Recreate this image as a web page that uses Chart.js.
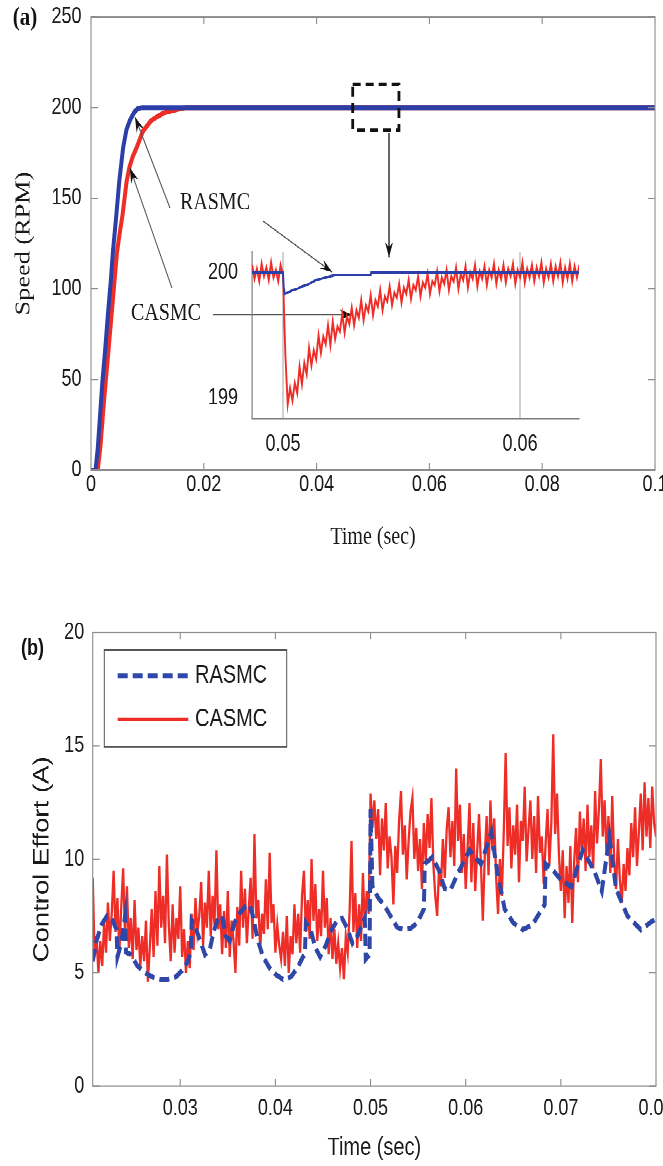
<!DOCTYPE html>
<html>
<head>
<meta charset="utf-8">
<script src="https://cdn.jsdelivr.net/npm/chart.js@4.4.0/dist/chart.umd.min.js"></script>
<style>
  html, body { margin: 0; padding: 0; background: #fff; overflow: hidden; }
  /* the source figure is stretched vertically, so the charts are drawn at 1/1.25 height and scaled */
  #page { position: absolute; left: 0; top: 0; width: 663px; height: 933px; transform: scaleY(1.25); transform-origin: 0 0; }
  #page canvas { position: absolute; left: 0; }
</style>
</head>
<body>
<div id="page">
  <canvas id="speed" width="663" height="448" style="top:0px"></canvas>
  <canvas id="zoom" width="410" height="180" style="left:190px;top:192px"></canvas>
  <canvas id="effort" width="663" height="453" style="top:480px"></canvas>
</div>
<script>
// ---- (a) speed response ----
const speedTicksX = [0, 0.02, 0.04, 0.06, 0.08, 0.1];
const speedTicksY = [0, 50, 100, 150, 200, 250];

const rasmcSpeedT = [0, 0.0008, 0.0012, 0.0016, 0.002, 0.0025, 0.003, 0.0035, 0.0039, 0.0045, 0.005, 0.0057, 0.0063, 0.0069, 0.0074, 0.0078, 0.0083, 0.009, 0.1];
const rasmcSpeed  = [0, 0, 12, 30, 48, 66, 86, 104, 121, 141, 159, 178, 188, 193, 196, 198, 199.5, 200, 200];

const casmcSpeedT = [0, 0.0012, 0.0017, 0.0022, 0.0027, 0.0031, 0.0036, 0.0041, 0.0046, 0.0051, 0.0056, 0.0063, 0.0068, 0.0074, 0.0081, 0.0092, 0.0107, 0.0128, 0.0152, 0.0168, 0.1];
const casmcSpeed  = [0, 0, 14, 34, 52, 66, 84, 102, 120, 131, 141, 159, 167, 173, 178, 187, 193, 197, 199, 200, 200];

// zoomed view around the load step at 0.05 s
const zoomTicksX = [0.05, 0.06];
const zoomTicksY = [199, 200];
const zoomStart = 0.0487, zoomStep = 0.0001;
const casmcZoom = [
  200.06, 199.95, 200.03, 199.93, 200.07, 199.97, 200.04, 199.94, 200.08, 199.96, 200.02, 199.93, 200.06, 199.98,
  199.35, 198.95, 199.08, 198.98, 199.12, 199.04, 199.25, 199.11, 199.28, 199.19,
  199.40, 199.26, 199.38, 199.31, 199.50, 199.36, 199.49, 199.43, 199.58, 199.42,
  199.61, 199.47, 199.57, 199.53, 199.67, 199.52, 199.65, 199.59, 199.72, 199.58,
  199.70, 199.64, 199.78, 199.62, 199.74, 199.69, 199.82, 199.66, 199.78, 199.73,
  199.86, 199.70, 199.81, 199.77, 199.89, 199.74, 199.84, 199.80, 199.91, 199.76,
  199.88, 199.83, 199.94, 199.79, 199.90, 199.86, 199.97, 199.81, 199.92, 199.88,
  199.99, 199.83, 199.93, 199.90, 200.01, 199.85, 199.96, 199.91, 200.02, 199.86,
  199.97, 199.93, 200.04, 199.87, 199.99, 199.94, 200.05, 199.88, 200.00, 199.95,
  200.06, 199.89, 200.01, 199.95, 200.05, 199.90, 200.02, 199.96, 200.07, 199.91,
  200.02, 199.95, 200.06, 199.92, 200.03, 199.97, 200.07, 199.91, 200.02, 199.96,
  200.08, 199.92, 200.03, 199.96, 200.06, 199.93, 200.04, 199.97, 200.08, 199.92,
  200.03, 199.96, 200.07, 199.93, 200.05, 199.97, 200.08, 199.92, 200.04, 199.95,
  200.07, 199.93, 200.05, 199.96, 200.06
];
const rasmcZoomT = [0.0487, 0.05, 0.05003, 0.05008, 0.0502, 0.0504, 0.0506, 0.0508, 0.051, 0.0512, 0.0514, 0.0516, 0.0518, 0.052, 0.0522, 0.0537, 0.05372, 0.0625];
const rasmcZoom  = [200.0, 200.0, 199.88, 199.83, 199.84, 199.86, 199.87, 199.89, 199.90, 199.92, 199.94, 199.95, 199.96, 199.97, 199.98, 199.98, 200.0, 200.0];

// ---- (b) control effort ----
const effortTicksX = [0.03, 0.04, 0.05, 0.06, 0.07, 0.08];
const effortTicksY = [0, 5, 10, 15, 20];

const rasmcEffortT = [
  0.0208, 0.0212, 0.0217, 0.0223, 0.0229, 0.0233, 0.0234, 0.0238, 0.0242, 0.0243,
  0.0248, 0.0255, 0.0263, 0.0271, 0.0279, 0.0287, 0.0295, 0.0302, 0.0308, 0.0311,
  0.0312, 0.0316, 0.0321, 0.0326, 0.0331, 0.0335, 0.0339, 0.0344, 0.0348, 0.0352,
  0.0357, 0.0362, 0.0368, 0.0373, 0.0377, 0.0381, 0.0387, 0.0394, 0.0401, 0.0408,
  0.0416, 0.0423, 0.0429, 0.0431, 0.0432, 0.0437, 0.0442, 0.0447, 0.0453, 0.0459,
  0.0465, 0.047, 0.0475, 0.0481, 0.0486, 0.0491, 0.0494, 0.0495, 0.0499, 0.05,
  0.0502, 0.0508, 0.0514, 0.0521, 0.0528, 0.0535, 0.0542, 0.0549, 0.0556, 0.0557,
  0.0565, 0.0572, 0.0578, 0.0584, 0.0592, 0.0604, 0.0616, 0.0627, 0.0633, 0.0641,
  0.065, 0.066, 0.067, 0.068, 0.0683, 0.0684, 0.069, 0.07, 0.0711, 0.0723,
  0.0735, 0.0743, 0.0751, 0.0758, 0.077, 0.0784, 0.0797, 0.08
];
const rasmcEffort = [
  5.5, 6.4, 7.1, 7.5, 7.3, 6.9, 5.7, 6.3, 7.5, 5.9,
  5.8, 5.3, 5.0, 4.8, 4.7, 4.7, 4.8, 5.1, 5.5, 5.9,
  7.3, 7.0, 6.4, 5.8, 6.0, 6.8, 7.3, 7.5, 6.6, 6.4,
  7.2, 7.6, 7.9, 8.0, 7.4, 6.5, 5.7, 5.2, 4.9, 4.7,
  4.8, 5.2, 5.7, 5.8, 7.2, 6.9, 6.1, 5.7, 6.2, 6.9,
  7.3, 7.4, 7.0, 6.3, 6.6, 7.1, 7.4, 5.6, 5.8, 12.2,
  8.8, 8.3, 8.0, 7.5, 7.0, 6.9, 6.95, 7.2, 7.8, 9.8,
  10.1, 9.5, 8.7, 8.65, 9.4, 10.4, 9.8, 11.2, 9.5, 7.8,
  7.2, 6.9, 7.1, 7.8, 8.0, 9.8, 9.6, 9.1, 8.8, 10.4,
  9.5, 8.6, 11.0, 8.7, 7.5, 6.9, 7.3, 7.4
];

const effortStart = 0.0208, effortStep = 0.0002;
const casmcEffort = [
  9.2, 5.8, 6.6, 5.0, 6.4, 5.3, 7.2, 5.9, 8.1, 6.4,
  7.6, 9.5, 6.8, 8.3, 5.9, 7.9, 9.6, 6.6, 8.8, 6.1,
  7.4, 5.6, 8.2, 6.0, 7.0, 5.3, 6.6, 5.5, 7.3, 4.6,
  6.1, 7.8, 5.7, 8.6, 6.2, 9.7, 7.0, 8.4, 6.3, 10.2,
  7.1, 5.5, 8.0, 5.9, 7.4, 6.5, 8.8, 5.7, 6.9, 5.0,
  6.4, 5.2, 7.6, 6.0, 8.3, 6.8, 7.5, 9.0, 6.2, 8.1,
  7.0, 9.5, 6.6, 8.4, 7.1, 10.4, 6.9, 8.0, 5.8, 7.7,
  6.1, 8.6, 5.7, 7.3, 6.4, 5.0, 7.9, 6.2, 9.5, 7.0,
  8.7, 6.3, 7.8, 9.2, 6.5, 11.1, 7.4, 8.2, 6.0, 7.6,
  6.7, 9.1, 6.9, 10.3, 7.2, 8.0, 5.9, 7.1, 6.2, 5.6,
  6.8, 5.3, 7.5, 5.0, 6.6, 5.8, 8.0, 6.3, 7.6, 5.9,
  8.4, 9.5, 6.8, 8.2, 6.5, 10.0, 7.3, 8.9, 6.4, 7.8,
  6.6, 9.5, 7.0, 8.3, 5.8, 7.4, 5.6, 6.9, 5.4, 6.3,
  5.2, 6.1, 4.7, 6.6, 5.9, 7.7, 10.8, 6.8, 8.5, 6.1,
  8.0, 6.4, 9.4, 7.0, 8.6, 7.6, 12.9, 11.4, 12.6, 10.9,
  12.2, 9.3, 11.8, 10.4, 12.5, 9.6, 11.0, 10.1, 8.0, 10.6,
  9.4, 11.7, 13.0, 10.2, 11.5, 9.1, 10.8, 12.1, 12.7, 10.0,
  11.4, 9.5, 10.9, 8.7, 11.6, 9.9, 12.0, 10.5, 12.7, 9.8,
  8.4, 7.5, 9.6, 8.8, 10.9, 9.2, 11.3, 12.3, 10.1, 11.7,
  9.7, 14.0, 10.8, 12.4, 9.4, 11.1, 8.7, 10.5, 12.5, 9.0,
  11.6, 8.6, 10.3, 12.0, 9.8, 7.3, 10.1, 11.9, 9.3, 12.6,
  10.4, 11.8, 9.2, 7.6, 10.0, 8.4, 11.2, 14.7, 10.6, 12.3,
  9.6, 11.5, 10.2, 12.4, 9.0, 11.7, 10.8, 13.2, 9.9, 11.3,
  12.6, 10.0, 11.9, 9.4, 12.8, 10.3, 11.0, 8.9, 10.7, 12.2,
  9.8, 11.6, 15.5, 11.1, 12.9, 10.2, 8.6, 10.4, 7.4, 9.7,
  8.1, 10.6, 7.2, 9.9, 11.4, 9.0, 12.1, 10.3, 11.8, 9.5,
  12.4, 10.1, 11.5, 9.6, 13.0, 10.7, 12.2, 14.4, 11.0, 12.6,
  10.2, 11.9, 9.4, 12.8, 10.0, 8.7, 10.9, 9.1, 8.1, 9.8,
  8.6, 10.5, 9.3, 11.6, 10.1, 12.3, 9.7, 11.2, 12.9, 10.4,
  13.4, 11.0, 12.7, 10.5, 13.2, 11.6, 11.0
];

const SANS = "'Liberation Sans', Arial, sans-serif";
const SERIF = "'Liberation Serif', 'Times New Roman', serif";
const BLUE = '#2c3fa8';
const RED = '#ee2d27';
const INK = '#1a1a1a';
const AXIS = '#8c8c8c';

Chart.defaults.font.family = SANS;
Chart.defaults.color = INK;

const fmt = v => String(+Number(v).toFixed(4));
const pairs = (xs, ys) => xs.map((t, i) => ({ x: t, y: ys[i] }));
const sampled = (start, step, ys) => ys.map((v, i) => ({ x: start + i * step, y: v }));
const fixedTicks = list => s => { s.ticks = list.map(v => ({ value: v })); };

function arrowTo(ctx, x1, y1, x2, y2, color, width) {
  ctx.strokeStyle = color;
  ctx.lineWidth = width;
  ctx.beginPath();
  ctx.moveTo(x1, y1);
  ctx.lineTo(x2, y2);
  ctx.stroke();
  const a = Math.atan2(y2 - y1, x2 - x1);
  const c = Math.cos(a), s = Math.sin(a);
  const L = 12, W = 4;
  ctx.fillStyle = '#111';
  ctx.beginPath();
  ctx.moveTo(x2, y2);
  ctx.lineTo(x2 - L * c - W * s, y2 - L * s + W * c);
  ctx.lineTo(x2 - 0.65 * L * c, y2 - 0.65 * L * s);
  ctx.lineTo(x2 - L * c + W * s, y2 - L * s - W * c);
  ctx.closePath();
  ctx.fill();
}

// matlab style box with inward ticks on all four sides
const framePlugin = {
  id: 'frame',
  afterDatasetsDraw(chart, args, opts) {
    const { ctx, chartArea: a, scales: { x, y } } = chart;
    ctx.save();
    ctx.strokeStyle = opts.color;
    ctx.lineWidth = 1.1;
    ctx.strokeRect(a.left, a.top, a.right - a.left, a.bottom - a.top);
    ctx.beginPath();
    x.ticks.forEach(t => {
      const p = x.getPixelForValue(t.value);
      ctx.moveTo(p, a.bottom); ctx.lineTo(p, a.bottom - opts.tickV);
      ctx.moveTo(p, a.top); ctx.lineTo(p, a.top + opts.tickV);
    });
    y.ticks.forEach(t => {
      const p = y.getPixelForValue(t.value);
      ctx.moveTo(a.left, p); ctx.lineTo(a.left + opts.tickH, p);
      ctx.moveTo(a.right, p); ctx.lineTo(a.right - opts.tickH, p);
    });
    ctx.stroke();
    ctx.restore();
  }
};

const speedNotes = {
  id: 'speedNotes',
  afterDatasetsDraw(chart) {
    const { ctx, scales: { x, y } } = chart;
    const at = (t, v) => [x.getPixelForValue(t), y.getPixelForValue(v)];
    ctx.save();
    // dashed box around the zoomed part
    const [bx1, by1] = at(0.0464, 213);
    const [bx2, by2] = at(0.0546, 187.6);
    ctx.setLineDash([8, 5]);
    ctx.lineWidth = 2.8;
    ctx.strokeStyle = '#111';
    ctx.strokeRect(bx1, by1, bx2 - bx1, by2 - by1);
    ctx.setLineDash([]);
    arrowTo(ctx, ...at(0.05284, 186), ...at(0.05284, 117.5), '#111', 1.3);

    ctx.font = `20px ${SERIF}`;
    ctx.fillStyle = INK;
    ctx.textBaseline = 'alphabetic';
    ctx.fillText('RASMC', ...at(0.01578, 144));
    arrowTo(ctx, ...at(0.01401, 144.6), ...at(0.0078, 194.8), '#555', 1);
    arrowTo(ctx, ...at(0.0305, 137.4), ...at(0.04273, 109.3), '#555', 1);
    ctx.fillStyle = INK;
    ctx.fillText('CASMC', ...at(0.00709, 82.8));
    arrowTo(ctx, ...at(0.01436, 100.4), ...at(0.00691, 166.7), '#555', 1);
    arrowTo(ctx, ...at(0.02163, 85.8), ...at(0.04628, 85.8), '#555', 1);

    ctx.font = `bold 21px ${SERIF}`;
    ctx.textBaseline = 'middle';
    ctx.fillStyle = '#111';
    ctx.fillText('(a)', 12.7, 14.4);
    ctx.restore();
  }
};

const effortNotes = {
  id: 'effortNotes',
  afterDraw(chart) {
    const { ctx } = chart;
    ctx.save();
    ctx.font = `bold 18px ${SANS}`;
    ctx.fillStyle = '#111';
    ctx.textBaseline = 'middle';
    ctx.fillText('(b)', 21, 39.2);

    // legend
    ctx.fillStyle = '#fff';
    ctx.fillRect(104.3, 40, 182.4, 77.4);
    ctx.strokeStyle = '#555';
    ctx.lineWidth = 1;
    ctx.strokeRect(104.3, 40, 182.4, 77.4);
    const rows = [60.6, 95.4];
    chart.data.datasets.forEach((ds, i) => {
      ctx.strokeStyle = ds.borderColor;
      ctx.lineWidth = ds.borderDash ? 4 : 3;
      ctx.setLineDash(ds.borderDash || []);
      ctx.beginPath();
      ctx.moveTo(117.7, rows[i]);
      ctx.lineTo(188.3, rows[i]);
      ctx.stroke();
      ctx.setLineDash([]);
      ctx.font = `20px ${SANS}`;
      ctx.fillStyle = INK;
      ctx.fillText(ds.label, 195, rows[i]);
    });
    ctx.restore();
  }
};

const base = {
  responsive: false,
  animation: false,
  devicePixelRatio: 2,
  elements: { point: { radius: 0 }, line: { tension: 0 } },
};

// (a) main axes
new Chart(document.getElementById('speed'), {
  type: 'line',
  data: {
    datasets: [
      { label: 'RASMC', data: pairs(rasmcSpeedT, rasmcSpeed), borderColor: BLUE, borderWidth: 4 },
      { label: 'CASMC', data: pairs(casmcSpeedT, casmcSpeed), borderColor: RED, borderWidth: 4 }
    ]
  },
  options: {
    ...base,
    layout: { padding: { top: 13.6, right: 8, bottom: 0, left: 0 } },
    plugins: {
      legend: { display: false },
      tooltip: { enabled: false },
      frame: { color: AXIS, tickV: 5.6, tickH: 7 }
    },
    scales: {
      x: {
        type: 'linear', min: 0, max: 0.1,
        afterBuildTicks: fixedTicks(speedTicksX),
        afterFit: s => { s.height = 72; s.paddingLeft = 0; s.paddingRight = 0; },
        grid: { display: false, drawTicks: false },
        border: { display: false },
        ticks: { font: { size: 18 }, padding: 1.2, maxRotation: 0, autoSkip: false, callback: fmt },
        title: { display: true, text: 'Time (sec)', font: { family: SERIF, size: 20 }, padding: { top: 0, bottom: 6.4 } }
      },
      y: {
        type: 'linear', min: 0, max: 250,
        afterBuildTicks: fixedTicks(speedTicksY),
        afterFit: s => { s.width = 91; s.paddingTop = 0; s.paddingBottom = 0; },
        grid: { display: false, drawTicks: false },
        border: { display: false },
        ticks: { font: { size: 18 }, padding: 9.5, callback: fmt },
        title: { display: true, text: 'Speed (RPM)', font: { family: SERIF, size: 21 }, padding: { top: 11.4, bottom: 0 } }
      }
    }
  },
  plugins: [framePlugin, speedNotes]
});

// (a) inset
new Chart(document.getElementById('zoom'), {
  type: 'line',
  data: {
    datasets: [
      { label: 'RASMC', data: pairs(rasmcZoomT, rasmcZoom), borderColor: BLUE, borderWidth: 2 },
      { label: 'CASMC', data: sampled(zoomStart, zoomStep, casmcZoom), borderColor: RED, borderWidth: 1.9 }
    ]
  },
  options: {
    ...base,
    layout: { padding: { top: 9.6, right: 21, bottom: 0, left: 0 } },
    plugins: { legend: { display: false }, tooltip: { enabled: false } },
    scales: {
      x: {
        type: 'linear', min: 0.048694, max: 0.062486,
        afterBuildTicks: fixedTicks(zoomTicksX),
        afterFit: s => { s.height = 36.8; s.paddingLeft = 0; s.paddingRight = 0; },
        grid: { display: true, drawTicks: false, color: '#a3a3a3', lineWidth: 1 },
        border: { display: true, color: '#7d7d7d', width: 1.2 },
        ticks: { font: { size: 18 }, padding: 9.6, maxRotation: 0, autoSkip: false, callback: fmt }
      },
      y: {
        type: 'linear', min: 198.833, max: 200.163,
        afterBuildTicks: fixedTicks(zoomTicksY),
        afterFit: s => { s.width = 62; s.paddingTop = 0; s.paddingBottom = 0; },
        grid: { display: false, drawTicks: false },
        border: { display: true, color: '#7d7d7d', width: 1.2 },
        ticks: { font: { size: 18 }, padding: 14, callback: fmt }
      }
    }
  }
});

// (b) control effort
new Chart(document.getElementById('effort'), {
  type: 'line',
  data: {
    datasets: [
      { label: 'RASMC', data: pairs(rasmcEffortT, rasmcEffort), borderColor: '#2f48a8', borderWidth: 4, borderDash: [10, 5] },
      { label: 'CASMC', data: sampled(effortStart, effortStep, casmcEffort), borderColor: RED, borderWidth: 2.3 }
    ]
  },
  options: {
    ...base,
    layout: { padding: { top: 26, right: 7, bottom: 0, left: 0 } },
    plugins: {
      legend: { display: false },
      tooltip: { enabled: false },
      frame: { color: AXIS, tickV: 5.6, tickH: 7 }
    },
    scales: {
      x: {
        type: 'linear', min: 0.0208, max: 0.08,
        afterBuildTicks: fixedTicks(effortTicksX),
        afterFit: s => { s.height = 64.2; s.paddingLeft = 0; s.paddingRight = 0; },
        grid: { display: false, drawTicks: false },
        border: { display: false },
        ticks: { font: { size: 18 }, padding: 7.2, maxRotation: 0, autoSkip: false, callback: fmt },
        title: { display: true, text: 'Time (sec)', font: { size: 20 }, padding: { top: 0, bottom: 2.6 } }
      },
      y: {
        type: 'linear', min: 0, max: 20,
        afterBuildTicks: fixedTicks(effortTicksY),
        afterFit: s => { s.width = 92.7; s.paddingTop = 0; s.paddingBottom = 0; },
        grid: { display: false, drawTicks: false },
        border: { display: false },
        ticks: { font: { size: 18 }, padding: 8.5, callback: fmt },
        title: { display: true, text: 'Control Effort (A)', font: { size: 22 }, padding: { top: 29.3, bottom: 0 } }
      }
    }
  },
  plugins: [framePlugin, effortNotes]
});
</script>
</body>
</html>
